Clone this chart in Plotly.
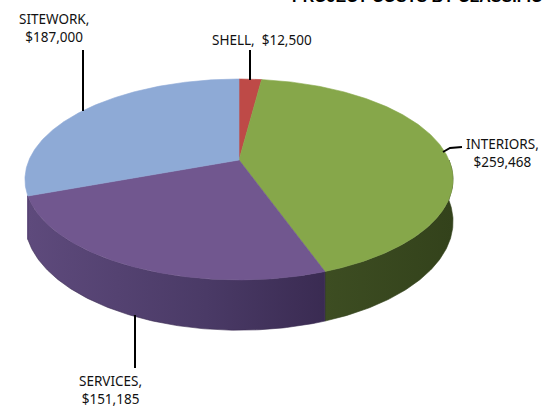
import numpy as np
import plotly.graph_objects as go

# Project cost breakdown
categories = ["SHELL", "INTERIORS", "SERVICES", "SITEWORK"]
costs = [12500, 259468, 151185, 187000]
label_text = ["SHELL,  $12,500", "INTERIORS,<br>$259,468", "SERVICES,<br>$151,185", "SITEWORK,<br>$187,000"]

top_colors = ["#be4a47", "#86a74a", "#71578f", "#8eaad6"]
side_scales = [
    [[0, "#7e2f2d"], [1, "#5c2120"]],
    [[0, "#3d4d22"], [1, "#33421b"]],
    [[0, "#5e4a7c"], [0.6, "#4a3a66"], [1, "#3a2b52"]],
    [[0, "#5e4a7c"], [1, "#5e4a7c"]],
]

# Tilted-disc projection (pixel space of the page)
CX, CY = 239, 160          # centre of the disc
A, B = 96.7, 210           # vertical / horizontal radius
P = 0.194                  # perspective strength
DEPTH = 40.5               # disc thickness
WALL = (90, 250)           # arc of the rim whose wall faces the viewer


def project(theta_deg, drop=0.0):
    t = np.radians(theta_deg)
    u, v = np.sin(t), np.cos(t)
    f = 1.0 / (1.0 + P * v)
    return CX + B * u * f, CY - A * v * f + drop * DEPTH * f


total = float(sum(costs))
angles = np.cumsum([0] + [c / total * 360 for c in costs])

fig = go.Figure()

# side walls, drawn first
for i in range(len(costs)):
    a0, a1 = angles[i], angles[i + 1]
    lo, hi = max(a0, WALL[0]), min(a1, WALL[1])
    if hi <= lo:
        continue
    th = np.linspace(lo, hi, 120)
    xt, yt = project(th, 0)
    xb, yb = project(th[::-1], 1)
    xs = np.concatenate([xt, xb, xt[:1]])
    ys = np.concatenate([yt, yb, yt[:1]])
    fig.add_trace(go.Scatter(
        x=xs, y=ys, mode="lines", fill="toself",
        line=dict(width=0.6, color=side_scales[i][-1][1]),
        fillgradient=dict(type="horizontal", colorscale=side_scales[i]),
        hoverinfo="skip", showlegend=False,
    ))

# top faces
for i in range(len(costs)):
    a0, a1 = angles[i], angles[i + 1]
    th = np.linspace(a0, a1, max(8, int((a1 - a0) * 2)))
    xa, ya = project(th, 0)
    xs = np.concatenate([[CX], xa, [CX]])
    ys = np.concatenate([[CY], ya, [CY]])
    fig.add_trace(go.Scatter(
        x=xs, y=ys, mode="lines", fill="toself", fillcolor=top_colors[i],
        line=dict(width=0.6, color=top_colors[i]),
        name=categories[i], text=f"{categories[i]}: ${costs[i]:,}",
        hoverinfo="text", showlegend=False,
    ))

# data labels with leader lines
label_pos = [(262, 40), (502, 152.5), (110, 390), (54, 27.5)]
leaders = [
    [(250, 50), (250, 80)],
    [(443, 152), (450, 148), (462, 147)],
    [(135, 315), (135, 368)],
    [(83, 50), (83, 111)],
]
for txt, (lx, ly), pts in zip(label_text, label_pos, leaders):
    fig.add_annotation(x=lx, y=ly, xref="x", yref="y", text=txt, showarrow=False,
                       font=dict(family="Noto Sans", size=13.5, color="#111111"),
                       align="center", xanchor="center", yanchor="middle")
    fig.add_trace(go.Scatter(x=[p[0] for p in pts], y=[p[1] for p in pts], mode="lines",
                             line=dict(color="#000000", width=2), hoverinfo="skip",
                             showlegend=False))

# chart title (runs past the top edge of the page)
fig.add_annotation(x=290, y=1.009, xref="x", yref="paper", text="<b>PROJECT COSTS BY CLASSIFICATION</b>",
                   showarrow=False, xanchor="left", yanchor="middle",
                   font=dict(family="Liberation Sans", size=16, color="#000000"))

fig.update_layout(
    width=542, height=409,
    margin=dict(l=0, r=0, t=0, b=0),
    paper_bgcolor="white", plot_bgcolor="white",
    xaxis=dict(range=[0, 542], visible=False, fixedrange=True),
    yaxis=dict(range=[409, 0], visible=False, fixedrange=True),
)

fig.write_html("out.html")
